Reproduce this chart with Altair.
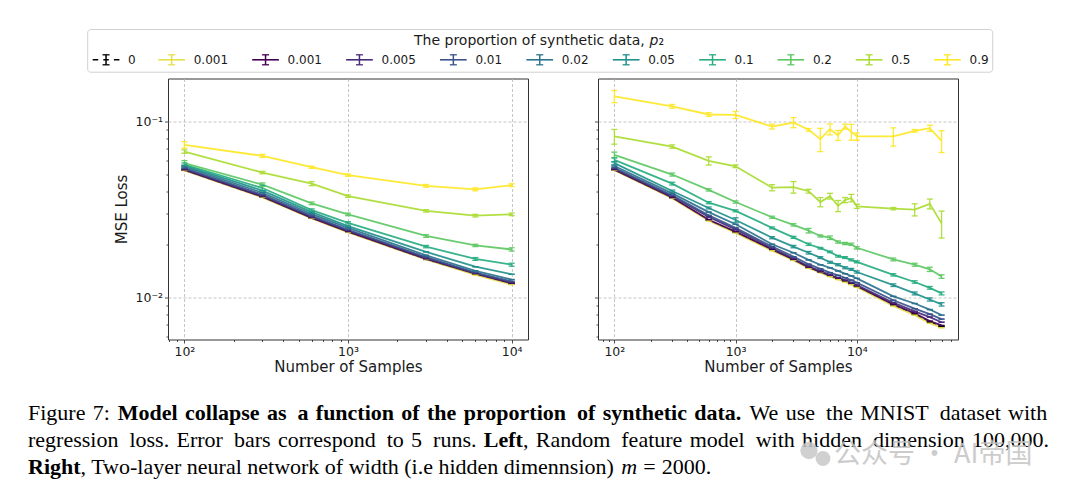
import altair as alt
import pandas as pd

# ---------------- data ----------------
series_labels = ["0", "0.001", "0.001", "0.005", "0.01", "0.02", "0.05", "0.1", "0.2", "0.5", "0.9"]
series_colors = ["#000000", "#e4e04a", "#440154", "#472c7a", "#3b528b", "#2c728e",
                 "#21918c", "#27ad81", "#5dc863", "#aadc32", "#fde725"]

left_samples = [100, 300, 600, 1000, 3000, 6000, 10000]
left_mse = [
    [0.0528, 0.0371, 0.0282, 0.0235, 0.0164, 0.0135, 0.0119],
    [0.0526, 0.0370, 0.0281, 0.0234, 0.0164, 0.0134, 0.0118],
    [0.0530, 0.0373, 0.0283, 0.0236, 0.0165, 0.0136, 0.0120],
    [0.0536, 0.0377, 0.0286, 0.0239, 0.0167, 0.0137, 0.0121],
    [0.0543, 0.0383, 0.0290, 0.0242, 0.0169, 0.0138, 0.0123],
    [0.0553, 0.0393, 0.0297, 0.0248, 0.0173, 0.0141, 0.0126],
    [0.0563, 0.0404, 0.0305, 0.0254, 0.0181, 0.0149, 0.0135],
    [0.0569, 0.0418, 0.0313, 0.0265, 0.0194, 0.0165, 0.0153],
    [0.0579, 0.0437, 0.0342, 0.0296, 0.0223, 0.0197, 0.0187],
    [0.0674, 0.0512, 0.0443, 0.0376, 0.0310, 0.0291, 0.0296],
    [0.0736, 0.0637, 0.0549, 0.0495, 0.0430, 0.0411, 0.0434],
]
left_err = {
    7: [0.0012, 0.0015, 0.0005, 0.0004, 0.0003, 0.0003, 0.0003],
    8: [0.0020, 0.0010, 0.0006, 0.0005, 0.0004, 0.0003, 0.0004],
    9: [0.0015, 0.0008, 0.0012, 0.0006, 0.0005, 0.0005, 0.0005],
    10: [0.0032, 0.0013, 0.0008, 0.0008, 0.0008, 0.0008, 0.0008],
}

right_samples = [100, 300, 600, 1000, 2000, 3000, 4000, 5000, 6000, 7000, 8000, 9000,
                 10000, 20000, 30000, 40000, 50000]
right_mse = [
    [0.0530, 0.0367, 0.0274, 0.0234, 0.0186, 0.0163, 0.0147, 0.0139, 0.0132, 0.0127, 0.0123, 0.0119, 0.0115, 0.0090, 0.0080, 0.0072, 0.0068],
    [0.0528, 0.0366, 0.0272, 0.0232, 0.0184, 0.0162, 0.0146, 0.0138, 0.0131, 0.0126, 0.0122, 0.0118, 0.0114, 0.0089, 0.0079, 0.0071, 0.0067],
    [0.0532, 0.0369, 0.0276, 0.0236, 0.0187, 0.0164, 0.0148, 0.0139, 0.0133, 0.0128, 0.0124, 0.0120, 0.0116, 0.0091, 0.0081, 0.0073, 0.0069],
    [0.0538, 0.0375, 0.0286, 0.0243, 0.0190, 0.0166, 0.0150, 0.0141, 0.0134, 0.0129, 0.0125, 0.0121, 0.0117, 0.0093, 0.0083, 0.0077, 0.0072],
    [0.0545, 0.0380, 0.0292, 0.0248, 0.0194, 0.0170, 0.0154, 0.0145, 0.0138, 0.0133, 0.0129, 0.0125, 0.0121, 0.0096, 0.0086, 0.0080, 0.0075],
    [0.0558, 0.0390, 0.0305, 0.0260, 0.0200, 0.0179, 0.0163, 0.0153, 0.0147, 0.0141, 0.0136, 0.0132, 0.0128, 0.0101, 0.0092, 0.0085, 0.0079],
    [0.0579, 0.0402, 0.0322, 0.0275, 0.0218, 0.0194, 0.0179, 0.0168, 0.0158, 0.0153, 0.0147, 0.0144, 0.0139, 0.0117, 0.0105, 0.0097, 0.0091],
    [0.0605, 0.0443, 0.0345, 0.0310, 0.0248, 0.0219, 0.0200, 0.0190, 0.0181, 0.0171, 0.0168, 0.0163, 0.0159, 0.0134, 0.0122, 0.0113, 0.0105],
    [0.0646, 0.0499, 0.0408, 0.0348, 0.0285, 0.0258, 0.0239, 0.0223, 0.0218, 0.0206, 0.0202, 0.0200, 0.0191, 0.0164, 0.0153, 0.0144, 0.0131],
    [0.0822, 0.0720, 0.0597, 0.0556, 0.0420, 0.0423, 0.0401, 0.0348, 0.0376, 0.0331, 0.0357, 0.0367, 0.0329, 0.0319, 0.0315, 0.0340, 0.0263],
    [0.1390, 0.1220, 0.1096, 0.1090, 0.0936, 0.0987, 0.0897, 0.0794, 0.0904, 0.0835, 0.0936, 0.0873, 0.0822, 0.0822, 0.0885, 0.0916, 0.0776],
]
right_err = {
    6: [0.0010, 0.0005, 0.0004, 0.0008, 0.0003, 0.0003, 0.0003, 0.0002, 0.0002, 0.0002, 0.0002, 0.0002, 0.0002, 0.0002, 0.0002, 0.0002, 0.0002],
    7: [0.0015, 0.0008, 0.0005, 0.0004, 0.0003, 0.0003, 0.0003, 0.0002, 0.0002, 0.0002, 0.0002, 0.0002, 0.0002, 0.0002, 0.0002, 0.0002, 0.0002],
    8: [0.0023, 0.0010, 0.0006, 0.0005, 0.0004, 0.0004, 0.0007, 0.0003, 0.0005, 0.0003, 0.0003, 0.0003, 0.0003, 0.0003, 0.0003, 0.0004, 0.0003],
    9: [0.0079, 0.0016, 0.0032, 0.0010, 0.0017, 0.0032, 0.0010, 0.0021, 0.0014, 0.0024, 0.0012, 0.0018, 0.0009, 0.0005, 0.0025, 0.0022, 0.0046],
    10: [0.0110, 0.0030, 0.0026, 0.0050, 0.0030, 0.0065, 0.0015, 0.0120, 0.0065, 0.0055, 0.0030, 0.0090, 0.0040, 0.0098, 0.0015, 0.0036, 0.0110],
}

x_major = [100, 1000, 10000]
x_major_text = ["10²", "10³", "10⁴"]
x_minor_left = [80, 90, 200, 300, 400, 500, 600, 700, 800, 900,
                2000, 3000, 4000, 5000, 6000, 7000, 8000, 9000]
x_minor_right = x_minor_left + [20000, 30000, 40000, 50000, 60000]
y_major = [0.01, 0.1]
y_major_text = ["10⁻²", "10⁻¹"]
y_minor = [0.006, 0.007, 0.008, 0.009, 0.02, 0.03, 0.04, 0.05, 0.06, 0.07, 0.08, 0.09]

x_title = "Number of Samples"
y_title = "MSE Loss"
legend_title = "The proportion of synthetic data,"
legend_title_var = "p"
legend_title_sub = "₂"

caption_texts = [
    "Figure 7:",
    "Model collapse as a function of the proportion of synthetic data.",
    "We use the MNIST dataset with",
    "regression loss. Error bars correspond to 5 runs.",
    "Left",
    ", Random feature model with hidden dimension 100,000.",
    "Right",
    ", Two-layer neural network of width (i.e hidden dimennsion)",
    "m",
    "=",
    "2000.",
]
caption_styles = ["normal", "bold", "normal", "normal", "bold", "normal",
                  "bold", "normal", "italic", "normal", "normal"]
caption_line_of = [0, 0, 0, 1, 1, 1, 2, 2, 2, 2, 2]
# justified lines: inter-word spaces widened (n of them to en-space, rest three-per-em)
caption_justified = [True, True, True, True, False, True, False, False, False, False, False]
caption_en_spaces = [0, 2, 2, 4, 0, 3, 0, 0, 0, 0, 0]
watermark_text = "公众号 · AI帝国"

# ---------------- layout (picture pixel positions) ----------------
PW, PH, GAP = 360, 261, 70
LEFT0, TOP0 = 167.0, 78.0          # plot origin of left panel on the page
x_dom_left = [79.4, 12590]
x_dom_right = [73.3, 68300]
y_dom = [0.00574, 0.1757]

legend_box_abs = [86.7, 29.0, 991.7, 71.7]
legend_handle_abs = [91.7, 157.3, 251.2, 345.1, 439.0, 525.4, 611.8, 698.2, 776.5, 854.8, 933.1]
legend_row_abs = 59.3
legend_title_abs = [413.0, 40.0, 648.6, 657.5]
HANDLE_W, LABEL_GAP = 26.7, 35.4
caption_x_abs = [27.0, 116.8, 748.6, 27.0, 482.8, 521.9, 27.0, 79.6, 620.3, 642.3, 660.8]
caption_line_abs = [419.7, 446.3, 473.0]
CAPTION_SIZE = 22
watermark_abs = [833.0, 454.7]
watermark_icon_abs = [[808.0, 450.0, 300], [822.0, 458.0, 220]]

PAD_LEFT = min(caption_x_abs) - 8
PAD_TOP = legend_box_abs[1] - 8 - 0.5


def rx(a):
    return a - LEFT0


def ry(a):
    return a - TOP0


# ---------------- helpers ----------------
def build_df(xs, mse, errs):
    rows = []
    for k, (lab, col) in enumerate(zip(series_labels, series_colors)):
        e = errs.get(k, [0.0] * len(xs))
        for x, v, d in zip(xs, mse[k], e):
            rows.append(dict(k=k, sid=f"s{k:02d}", label=lab, color=col,
                             N=x, mse=v, lo=v - d, hi=v + d))
    return pd.DataFrame(rows)


def justify(text, wide, n_en):
    if not wide:
        return text
    parts = text.split(" ")
    gaps = len(parts) - 1
    en_idx = set()
    if n_en:
        en_idx = {int((j + 0.5) * gaps / n_en) for j in range(n_en)}
    out = parts[0]
    for g in range(gaps):
        out += ("\u2002" if g in en_idx else "\u2004") + parts[g + 1]
    return out


def major_test(vals):
    return "indexof([" + ",".join(str(v) for v in vals) + "], datum.value) >= 0"


def label_expr(vals, texts):
    s = "''"
    for v, t in zip(reversed(vals), reversed(texts)):
        s = f"datum.value == {v} ? '{t}' : " + s
    return s


def make_axis(major, minor, texts, show_labels, title_pad):
    test = major_test(major)
    return alt.Axis(
        values=major + minor,
        labelExpr=label_expr(major, texts) if show_labels else "''",
        tickSize={"condition": {"test": test, "value": 3.5}, "value": 2.0},
        gridOpacity={"condition": {"test": test, "value": 1.0}, "value": 0.0},
        grid=True, gridColor="#b8b8b8", gridDash=[3, 2], gridWidth=0.8,
        domain=False, ticks=True, tickColor="#222222", tickWidth=0.8,
        labelFont="DejaVu Sans", labelFontSize=12.5, labelColor="#1a1a1a",
        labelPadding=2, labelOverlap=False, labelFlush=False,
        titleFont="DejaVu Sans", titleFontSize=15, titleFontWeight="normal",
        titleColor="#1a1a1a", titlePadding=title_pad,
    )


def PX(f):
    return alt.X(f, type="quantitative", scale=None, axis=None)


def PY(f):
    return alt.Y(f, type="quantitative", scale=None, axis=None)


def panel(df, xdom, xminor, show_ylabels, extra):
    xscale = alt.Scale(type="log", domain=xdom, nice=False)
    yscale = alt.Scale(type="log", domain=y_dom, nice=False)
    xax = make_axis(x_major, xminor, x_major_text, True, 2)
    yax = make_axis(y_major, y_minor, y_major_text, show_ylabels, 5)
    ytitle = y_title if show_ylabels else None
    X = alt.X("N:Q", scale=xscale, axis=xax, title=x_title)

    def Y(f):
        return alt.Y(f, type="quantitative", scale=yscale, axis=yax, title=ytitle)

    col = alt.Color("color:N", scale=None)
    base = alt.Chart(df)
    dashed = base.transform_filter("datum.k == 0").mark_line(
        color="black", strokeWidth=1.4, strokeDash=[5, 3]).encode(x=X, y=Y("mse"))
    lines = base.transform_filter("datum.k > 0").mark_line(
        strokeWidth=1.8, opacity=0.92).encode(x=X, y=Y("mse"), color=col, detail="sid:N")
    bars = base.mark_rule(strokeWidth=1.3, opacity=0.92).encode(
        x=X, y=Y("lo"), y2=alt.Y2("hi"), color=col)
    cap_lo = base.mark_tick(orient="horizontal", size=6, thickness=1.3, opacity=0.92).encode(
        x=X, y=Y("lo"), color=col)
    cap_hi = base.mark_tick(orient="horizontal", size=6, thickness=1.3, opacity=0.92).encode(
        x=X, y=Y("hi"), color=col)
    return alt.layer(dashed, lines, bars, cap_lo, cap_hi, *extra).properties(width=PW, height=PH)


# ---------------- legend (drawn as marks above the panels) ----------------
ly = ry(legend_row_abs)
leg = pd.DataFrame({
    "label": series_labels,
    "color": series_colors,
    "k": list(range(len(series_labels))),
    "hx1": [rx(a) for a in legend_handle_abs],
})
leg["hx2"] = leg["hx1"] + HANDLE_W
leg["hc"] = leg["hx1"] + HANDLE_W / 2
leg["cx1"] = leg["hc"] - 3.5
leg["cx2"] = leg["hc"] + 3.5
leg["tx"] = leg["hx1"] + LABEL_GAP
leg["ly"] = ly
leg["ly1"] = ly - 5
leg["ly2"] = ly + 5

box = pd.DataFrame({"x1": [rx(legend_box_abs[0])], "y1": [ry(legend_box_abs[1])],
                    "x2": [rx(legend_box_abs[2])], "y2": [ry(legend_box_abs[3])]})
box_layer = alt.Chart(box).mark_rect(fill="white", stroke="#d0d0d0", strokeWidth=1,
                                     cornerRadius=3).encode(
    x=PX("x1"), x2=alt.X2("x2"), y=PY("y1"), y2=alt.Y2("y2"))

lc = alt.Color("color:N", scale=None)
lb = alt.Chart(leg)
h_solid = lb.transform_filter("datum.k > 0").mark_rule(strokeWidth=1.6).encode(
    x=PX("hx1"), x2=alt.X2("hx2"), y=PY("ly"), color=lc)
h_dash = lb.transform_filter("datum.k == 0").mark_rule(strokeWidth=1.6, strokeDash=[5.5, 5.1]).encode(
    x=PX("hx1"), x2=alt.X2("hx2"), y=PY("ly"), color=lc)
h_bar = lb.mark_rule(strokeWidth=1.5).encode(x=PX("hc"), y=PY("ly1"), y2=alt.Y2("ly2"), color=lc)
h_cap1 = lb.mark_rule(strokeWidth=1.3).encode(x=PX("cx1"), x2=alt.X2("cx2"), y=PY("ly1"), color=lc)
h_cap2 = lb.mark_rule(strokeWidth=1.3).encode(x=PX("cx1"), x2=alt.X2("cx2"), y=PY("ly2"), color=lc)
h_text = lb.mark_text(align="left", baseline="middle", font="DejaVu Sans", fontSize=12,
                      color="#1a1a1a").encode(x=PX("tx"), y=PY("ly"), text="label:N")

ttl = pd.DataFrame({"t": [legend_title], "x": [rx(legend_title_abs[0])], "y": [ry(legend_title_abs[1])]})
ttl_p = pd.DataFrame({"t": [legend_title_var], "x": [rx(legend_title_abs[2])], "y": [ry(legend_title_abs[1])]})
ttl_s = pd.DataFrame({"t": [legend_title_sub], "x": [rx(legend_title_abs[3])], "y": [ry(legend_title_abs[1])]})
t_main = alt.Chart(ttl).mark_text(align="left", baseline="middle", font="DejaVu Sans",
                                  fontSize=14, color="#1a1a1a").encode(x=PX("x"), y=PY("y"), text="t:N")
t_p = alt.Chart(ttl_p).mark_text(align="left", baseline="middle", font="DejaVu Sans",
                                 fontSize=14, fontStyle="italic", color="#1a1a1a").encode(
    x=PX("x"), y=PY("y"), text="t:N")
t_s = alt.Chart(ttl_s).mark_text(align="left", baseline="middle", font="DejaVu Sans",
                                 fontSize=14, color="#1a1a1a").encode(x=PX("x"), y=PY("y"), text="t:N")

# ---------------- caption ----------------
cap = pd.DataFrame({
    "t": [justify(t, w, n) for t, w, n in zip(caption_texts, caption_justified, caption_en_spaces)],
    "style": caption_styles,
    "x": [rx(a) for a in caption_x_abs],
    "y": [ry(caption_line_abs[i]) for i in caption_line_of],
})
cb = alt.Chart(cap)
cap_layers = []
for sty, kw in [("normal", {}), ("bold", {"fontWeight": "bold"}), ("italic", {"fontStyle": "italic"})]:
    cap_layers.append(
        cb.transform_filter(f"datum.style == '{sty}'").mark_text(
            align="left", baseline="alphabetic", font="Liberation Serif", fontSize=CAPTION_SIZE,
            color="black", **kw).encode(x=PX("x"), y=PY("y"), text="t:N"))

icon = pd.DataFrame({"x": [rx(a[0]) for a in watermark_icon_abs],
                     "y": [ry(a[1]) for a in watermark_icon_abs],
                     "s": [a[2] for a in watermark_icon_abs]})
icon_layer = alt.Chart(icon).mark_point(filled=True, shape="circle", color="#c8c8c8",
                                        opacity=0.85, strokeWidth=0).encode(
    x=PX("x"), y=PY("y"), size=alt.Size("s:Q", scale=None))
wm = pd.DataFrame({"t": [watermark_text], "x": [rx(watermark_abs[0])], "y": [ry(watermark_abs[1])]})
wm_layer = alt.Chart(wm).mark_text(align="left", baseline="middle", font="Noto Sans CJK SC",
                                   fontSize=27, color="#c4c4c4", opacity=0.85).encode(
    x=PX("x"), y=PY("y"), text="t:N")

extra = [box_layer, h_dash, h_solid, h_bar, h_cap1, h_cap2, h_text, t_main, t_p, t_s,
         *cap_layers, icon_layer, wm_layer]

left = panel(build_df(left_samples, left_mse, left_err), x_dom_left, x_minor_left, True, extra)
right = panel(build_df(right_samples, right_mse, right_err), x_dom_right, x_minor_right, False, [])

chart = alt.hconcat(left, right, spacing=GAP, bounds="flush").properties(
    padding={"left": PAD_LEFT, "top": PAD_TOP, "right": 5, "bottom": 5},
    background="white",
).configure_view(stroke="#333333", strokeWidth=1)

chart.save("out.html", embed_options={"renderer": "svg", "actions": False})
